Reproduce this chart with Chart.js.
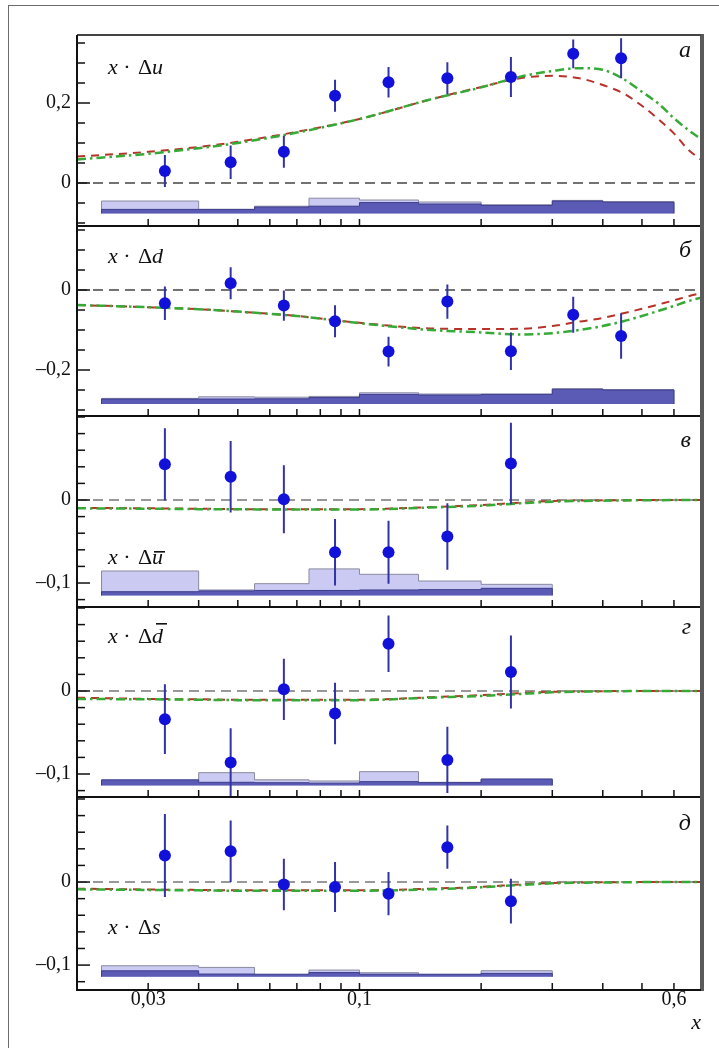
<!DOCTYPE html>
<html>
<head>
<meta charset="utf-8">
<script src="https://cdn.jsdelivr.net/npm/chart.js@4.4.0/dist/chart.umd.min.js"></script>
<style>
  body { margin: 0; background: #fff; }
  #wrap { position: relative; width: 719px; height: 1048px; overflow: hidden; }
  #frame { position: absolute; left: 8px; top: 5px; width: 760px; height: 1100px; box-sizing: border-box;
           border-left: 1.5px solid #6b6b6b; border-top: 1.5px solid #6b6b6b; }
  canvas { position: absolute; left: 0; }
</style>
</head>
<body>
<div id="wrap">
  <div id="frame"></div>
  <canvas id="p0"></canvas>
  <canvas id="p1"></canvas>
  <canvas id="p2"></canvas>
  <canvas id="p3"></canvas>
  <canvas id="p4"></canvas>
</div>
<script>
// ---- data ----
const xPts = [0.033, 0.048, 0.065, 0.087, 0.118, 0.165, 0.237, 0.338, 0.444];

const uVal = [0.030, 0.052, 0.078, 0.218, 0.252, 0.262, 0.265, 0.323, 0.312];
const uErr = [0.040, 0.042, 0.040, 0.040, 0.038, 0.040, 0.050, 0.036, 0.050];
const dVal = [-0.033, 0.017, -0.039, -0.078, -0.154, -0.029, -0.153, -0.062, -0.115];
const dErr = [0.042, 0.040, 0.038, 0.040, 0.037, 0.043, 0.047, 0.045, 0.057];
const ubarVal = [0.043, 0.028, 0.001, -0.063, -0.063, -0.044, 0.044];
const ubarErr = [0.0435, 0.043, 0.041, 0.040, 0.038, 0.040, 0.049];
const dbarVal = [-0.034, -0.086, 0.002, -0.027, 0.057, -0.083, 0.023];
const dbarErr = [0.042, 0.041, 0.037, 0.037, 0.034, 0.040, 0.044];
const sVal = [0.032, 0.037, -0.003, -0.006, -0.014, 0.042, -0.023];
const sErr = [0.050, 0.037, 0.031, 0.030, 0.026, 0.026, 0.027];

// model curves
const curveX = [0.02, 0.03, 0.04, 0.05, 0.07, 0.1, 0.15, 0.2, 0.25, 0.3, 0.35, 0.4, 0.45, 0.5, 0.55, 0.6, 0.65, 0.7];
const uGreen = [0.059, 0.073, 0.087, 0.100, 0.126, 0.160, 0.209, 0.239, 0.266, 0.280, 0.287, 0.283, 0.260, 0.228, 0.198, 0.162, 0.133, 0.110];
const uRed   = [0.066, 0.078, 0.090, 0.103, 0.128, 0.160, 0.209, 0.240, 0.262, 0.268, 0.262, 0.245, 0.224, 0.193, 0.159, 0.124, 0.084, 0.058];
const dGreen = [-0.0375, -0.043, -0.048, -0.054, -0.065, -0.083, -0.100, -0.106, -0.111, -0.108, -0.100, -0.090, -0.078, -0.065, -0.052, -0.040, -0.028, -0.019];
const dRed   = [-0.0375, -0.043, -0.048, -0.054, -0.065, -0.082, -0.096, -0.0975, -0.097, -0.090, -0.079, -0.070, -0.058, -0.047, -0.036, -0.026, -0.016, -0.008];
const ubarGreen = [-0.010, -0.0105, -0.011, -0.0112, -0.0115, -0.0115, -0.009, -0.0068, -0.004, -0.002, -0.0012, -0.0008, -0.0005, -0.0003, -0.0002, -0.0001, 0, 0];
const ubarRed   = [-0.0095, -0.010, -0.0105, -0.011, -0.011, -0.011, -0.0085, -0.006, -0.0032, -0.0012, -0.0006, -0.0004, -0.0002, -0.0001, 0, 0, 0, 0];
const dbarGreen = [-0.0096, -0.010, -0.0105, -0.011, -0.011, -0.011, -0.008, -0.006, -0.0035, -0.0016, -0.0008, -0.0004, -0.0002, 0, 0, 0, 0, 0];
const dbarRed   = [-0.008, -0.0095, -0.010, -0.0105, -0.0105, -0.0105, -0.0075, -0.005, -0.0025, -0.001, -0.0005, -0.0002, 0, 0, 0, 0, 0, 0];
const sGreen = [-0.0088, -0.0095, -0.010, -0.0105, -0.0105, -0.0105, -0.0088, -0.0064, -0.0035, -0.0016, -0.0008, -0.0005, -0.0003, -0.0001, 0, 0, 0, 0];
const sRed   = [-0.008, -0.009, -0.0095, -0.010, -0.010, -0.010, -0.008, -0.0058, -0.003, -0.0012, -0.0006, -0.0003, -0.0001, 0, 0, 0, 0, 0];

// systematic error bands (step histograms)
const binEdges = [0.023, 0.04, 0.055, 0.075, 0.1, 0.14, 0.2, 0.3, 0.4, 0.6];
const uLight = [-0.045, -0.066, -0.058, -0.038, -0.0425, -0.0475, -0.0545, -0.0435, -0.0465];
const uDark  = [-0.066, -0.066, -0.060, -0.058, -0.049, -0.0525, -0.056, -0.045, -0.048];
const dLight = [-0.271, -0.267, -0.268, -0.266, -0.257, -0.260, -0.260, -0.247, -0.249];
const dDark  = [-0.2725, -0.2725, -0.272, -0.269, -0.261, -0.2625, -0.261, -0.248, -0.250];
const ubarLight = [-0.0855, -0.1084, -0.1008, -0.083, -0.0895, -0.0976, -0.1016];
const ubarDark  = [-0.1105, -0.1095, -0.109, -0.109, -0.1084, -0.108, -0.1064];
const dbarLight = [-0.108, -0.0984, -0.107, -0.1084, -0.0972, -0.110, -0.1065];
const dbarDark  = [-0.107, -0.110, -0.1105, -0.111, -0.1092, -0.1104, -0.106];
const sLight = [-0.1008, -0.1028, -0.112, -0.106, -0.1092, -0.1115, -0.1068];
const sDark  = [-0.1069, -0.1108, -0.111, -0.109, -0.111, -0.111, -0.110];

const xLabels = [0.03, 0.1, 0.6];
const xMinor = [0.03, 0.04, 0.05, 0.06, 0.07, 0.08, 0.09, 0.1, 0.2, 0.3, 0.4, 0.5, 0.6];

// ---- layout ----
const W = 719, LEFT = 77, RIGHT = 701;
const panelTops = [35, 226, 416, 607, 797];
const panelBottom = 990;
const FONT = '"Liberation Serif", "Times New Roman", Times, "DejaVu Serif", serif';

const panels = [
  { val: uVal, err: uErr, green: uGreen, red: uRed, light: uLight, dark: uDark, base: -0.076,
    min: -0.1075, max: 0.37, step: 0.05, major: [0, 0.2], zero: '#444', q: 'u', bar: false,
    letter: 'а', labelY: 39, letterY: 22 },
  { val: dVal, err: dErr, green: dGreen, red: dRed, light: dLight, dark: dDark, base: -0.285,
    min: -0.315, max: 0.16, step: 0.05, major: [-0.2, 0], zero: '#444', q: 'd', bar: false,
    letter: 'б', labelY: 37, letterY: 31 },
  { val: ubarVal, err: ubarErr, green: ubarGreen, red: ubarRed, light: ubarLight, dark: ubarDark, base: -0.115,
    min: -0.1289, max: 0.1012, step: 0.02, major: [-0.1, 0], zero: '#777', q: 'u', bar: true,
    letter: 'в', labelY: 148, letterY: 31 },
  { val: dbarVal, err: dbarErr, green: dbarGreen, red: dbarRed, light: dbarLight, dark: dbarDark, base: -0.1137,
    min: -0.1277, max: 0.1012, step: 0.02, major: [-0.1, 0], zero: '#777', q: 'd', bar: true,
    letter: 'г', labelY: 36, letterY: 27 },
  { val: sVal, err: sErr, green: sGreen, red: sRed, light: sLight, dark: sDark, base: -0.114,
    min: -0.130, max: 0.1024, step: 0.02, major: [-0.1, 0], zero: '#777', q: 's', bar: false,
    letter: 'д', labelY: 137, letterY: 33 }
];

function fmt(v) {
  if (Math.abs(v) < 1e-9) return '0';
  const s = String(Math.abs(+(+v).toFixed(3))).replace('.', ',');
  return (v < 0 ? '–' : '') + s;
}

function errPath(xs, val, err) {
  const out = [];
  val.forEach((v, i) => {
    out.push({ x: xs[i], y: v - err[i] }, { x: xs[i], y: v + err[i] }, { x: xs[i], y: null });
  });
  return out;
}

function bandPath(edges, vals, base) {
  const n = vals.length;
  const out = [{ x: edges[0], y: base }];
  vals.forEach((v, i) => out.push({ x: edges[i], y: v }));
  out.push({ x: edges[n], y: vals[n - 1] });
  out.push({ x: edges[n], y: base });
  return out;
}

const decor = {
  id: 'panelDecor',
  afterDraw(chart, args, o) {
    const ctx = chart.ctx, a = chart.chartArea, x = chart.scales.x, y = chart.scales.y;
    ctx.save();
    ctx.strokeStyle = '#111';
    ctx.lineWidth = 1.5;
    // inward y ticks
    const n0 = Math.ceil(o.min / o.step - 1e-6), n1 = Math.floor(o.max / o.step + 1e-6);
    for (let k = n0; k <= n1; k++) {
      const v = k * o.step;
      const py = y.getPixelForValue(v);
      const major = o.major.some(m => Math.abs(m - v) < 1e-6);
      ctx.beginPath();
      ctx.moveTo(a.left, py);
      ctx.lineTo(a.left + (major ? 13 : 8), py);
      ctx.stroke();
    }
    // inward x ticks
    xMinor.forEach(v => {
      const px = x.getPixelForValue(v);
      ctx.beginPath();
      ctx.moveTo(px, a.bottom);
      ctx.lineTo(px, a.bottom - 7);
      ctx.stroke();
    });
    // frame
    ctx.lineWidth = 4; ctx.strokeStyle = '#5a5a5a';
    ctx.beginPath(); ctx.moveTo(a.right + 1, a.top - 1); ctx.lineTo(a.right + 1, a.bottom + 1); ctx.stroke();
    if (o.first) {
      ctx.lineWidth = 2; ctx.strokeStyle = '#444';
      ctx.beginPath(); ctx.moveTo(a.left, a.top); ctx.lineTo(a.right, a.top); ctx.stroke();
    }
    ctx.lineWidth = 2; ctx.strokeStyle = '#111';
    ctx.beginPath(); ctx.moveTo(a.left, a.top); ctx.lineTo(a.left, a.bottom); ctx.lineTo(a.right, a.bottom); ctx.stroke();

    // quantity label: x · Δq
    const by = a.top + o.labelY;
    ctx.fillStyle = '#111';
    ctx.textBaseline = 'alphabetic';
    ctx.textAlign = 'left';
    ctx.font = 'italic 22px ' + FONT;
    ctx.fillText('x', 108, by);
    ctx.font = '22px ' + FONT;
    ctx.textAlign = 'center';
    ctx.fillText('·', 127, by);
    ctx.textAlign = 'left';
    ctx.fillText('Δ', 138, by);
    ctx.font = 'italic 22px ' + FONT;
    ctx.fillText(o.q, 152, by);
    if (o.bar) {
      const w = ctx.measureText(o.q).width;
      const h = o.q === 'd' ? 20 : 13;
      const sh = o.q === 'd' ? 4 : 2;
      ctx.fillRect(152 + sh, by - h, w, 1.6);
    }
    // panel letter
    ctx.font = 'italic 24px ' + FONT;
    ctx.textAlign = 'right';
    ctx.fillText(o.letter, 691, a.top + o.letterY);
    ctx.restore();
  }
};

panels.forEach((p, i) => {
  const last = i === panels.length - 1;
  const top = panelTops[i];
  const bottom = last ? panelBottom : panelTops[i + 1];
  const axisH = last ? 58 : 0;
  const padB = last ? 0 : 2;
  const h = 2 + (bottom - top) + axisH + padB;
  const cv = document.getElementById('p' + i);
  cv.width = W; cv.height = h;
  cv.style.width = W + 'px'; cv.style.height = h + 'px';
  cv.style.top = (top - 2) + 'px';

  const nb = p.val.length;
  const xs = xPts.slice(0, nb);
  const tickFont = { family: FONT, size: 20 };

  new Chart(cv, {
    type: 'line',
    data: {
      datasets: [
        { data: bandPath(binEdges, p.light, p.base), stepped: 'before', fill: { value: p.base },
          backgroundColor: '#cacaf2', borderColor: '#8a8aa0', borderWidth: 1, pointRadius: 0, order: 6 },
        { data: bandPath(binEdges, p.dark, p.base), stepped: 'before', fill: { value: p.base },
          backgroundColor: '#5b5bb5', borderColor: '#3c3c8c', borderWidth: 1, pointRadius: 0, order: 5 },
        { data: [{ x: 0.02, y: 0 }, { x: 0.7, y: 0 }], borderColor: p.zero, borderWidth: 1.5,
          borderDash: [10, 6], pointRadius: 0, fill: false, order: 4 },
        { data: curveX.map((x, k) => ({ x, y: p.red[k] })), borderColor: '#b8322a', borderWidth: 2,
          borderDash: [8, 6], pointRadius: 0, fill: false, cubicInterpolationMode: 'monotone', order: 3 },
        { data: curveX.map((x, k) => ({ x, y: p.green[k] })), borderColor: '#36aa36', borderWidth: 2.5,
          borderDash: [9, 4, 2.5, 4], pointRadius: 0, fill: false, cubicInterpolationMode: 'monotone', order: 2 },
        { data: errPath(xs, p.val, p.err), borderColor: '#3333a8', borderWidth: 2, pointRadius: 0,
          fill: false, spanGaps: false, order: 1 },
        { data: xs.map((x, k) => ({ x, y: p.val[k] })), showLine: false, pointRadius: 6,
          pointBackgroundColor: '#1111d9', pointBorderWidth: 0, order: 0 }
      ]
    },
    options: {
      responsive: false,
      animation: false,
      events: [],
      layout: { autoPadding: false, padding: { left: 0, right: W - RIGHT, top: 2, bottom: padB } },
      plugins: {
        legend: { display: false },
        tooltip: { enabled: false },
        panelDecor: { min: p.min, max: p.max, step: p.step, major: p.major, q: p.q, bar: p.bar,
                      letter: p.letter, labelY: p.labelY, letterY: p.letterY, first: i === 0 }
      },
      scales: {
        x: {
          type: 'logarithmic', min: 0.02, max: 0.7,
          grid: { display: false, drawTicks: false }, border: { display: false },
          afterBuildTicks: s => { s.ticks = xLabels.map(v => ({ value: v })); },
          afterFit: s => { s.height = axisH; s.paddingLeft = 0; s.paddingRight = 0; s.paddingTop = 0; s.paddingBottom = 0; },
          ticks: { display: last, padding: -2, font: tickFont, color: '#111', maxRotation: 0, autoSkip: false,
                   callback: v => fmt(v) },
          title: { display: last, text: 'x', align: 'end', color: '#111',
                   font: { family: FONT, size: 22, style: 'italic' }, padding: { top: 0, bottom: 12 } }
        },
        y: {
          min: p.min, max: p.max,
          grid: { display: false, drawTicks: false }, border: { display: false },
          afterBuildTicks: s => { s.ticks = p.major.map(v => ({ value: v })); },
          afterFit: s => { s.width = LEFT; s.paddingTop = 0; s.paddingBottom = 0; s.paddingLeft = 0; s.paddingRight = 0; },
          ticks: { padding: 6, font: tickFont, color: '#111', callback: v => fmt(v) }
        }
      }
    },
    plugins: [decor]
  });
});
</script>
</body>
</html>
